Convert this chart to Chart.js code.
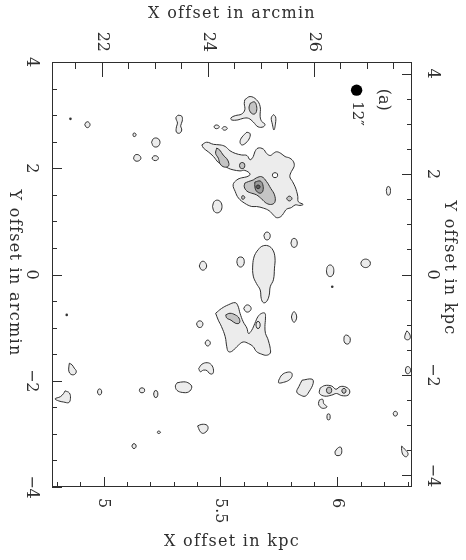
<!DOCTYPE html>
<html>
<head>
<meta charset="utf-8">
<script src="https://cdn.jsdelivr.net/npm/chart.js@4.4.1/dist/chart.umd.min.js"></script>
<style>
html,body{margin:0;padding:0;background:#fff;}
#wrap{width:466px;height:560px;}
</style>
</head>
<body>
<div id="wrap"><canvas id="c" width="466" height="560"></canvas></div>
<script>
// ---------- axis ticks / labels ----------
const xArcminTicks = [22, 24, 26];
const xKpcTicks = [5, 5.5, 6];
const xKpcLabels = ['5', '5.5', '6'];
const yArcminTicks = [4, 2, 0, -2, -4];
const yKpcTicks = [4, 2, 0, -2, -4];
const axisTitles = ['X offset in arcmin', 'X offset in kpc', 'Y offset in arcmin', 'Y offset in kpc'];
const panelLabel = '(a)';
const beamLabel = '12\u2033';
const beamPosition = [26.81, 3.47];
const panelLabelPosition = [27.32, 3.29];
const beamLabelPosition = [26.81, 3.03];

// ---------- contours (x, y in arcmin) ----------
const contoursLevel1 = [
  [[24.70,3.29],[24.80,3.35],[24.92,3.29],[24.99,3.16],[24.99,2.97],[25.02,2.88],[25.08,2.83],[25.05,2.78],[24.95,2.78],[24.86,2.87],[24.77,2.94],[24.67,2.94],[24.57,2.91],[24.45,2.91],[24.44,2.95],[24.52,2.99],[24.64,3.02],[24.70,3.10],[24.69,3.22]],
  [[25.24,3.01],[25.28,2.97],[25.28,2.85],[25.25,2.72],[25.22,2.83],[25.20,2.95]],
  [[24.12,2.78],[24.14,2.81],[24.19,2.81],[24.22,2.78],[24.19,2.75],[24.14,2.75]],
  [[24.27,2.75],[24.30,2.78],[24.34,2.78],[24.37,2.75],[24.34,2.72],[24.30,2.72]],
  [[24.74,2.68],[24.80,2.65],[24.78,2.55],[24.70,2.46],[24.64,2.44],[24.61,2.50],[24.65,2.59]],
  [[23.44,3.00],[23.51,2.98],[23.52,2.89],[23.49,2.80],[23.51,2.72],[23.47,2.66],[23.41,2.68],[23.41,2.78],[23.43,2.85],[23.40,2.95]],
  [[22.94,2.49],[22.98,2.56],[23.06,2.56],[23.10,2.49],[23.06,2.41],[22.98,2.41]],
  [[22.95,2.19],[22.98,2.23],[23.04,2.23],[23.07,2.19],[23.04,2.15],[22.98,2.15]],
  [[22.60,2.19],[22.63,2.25],[22.70,2.25],[22.74,2.19],[22.70,2.14],[22.63,2.14]],
  [[22.59,2.63],[22.60,2.66],[22.63,2.66],[22.65,2.63],[22.63,2.60],[22.60,2.60]],
  [[21.68,2.82],[21.71,2.87],[21.75,2.87],[21.78,2.82],[21.75,2.77],[21.71,2.77]],
  [[23.89,2.44],[23.98,2.49],[24.11,2.45],[24.23,2.44],[24.33,2.41],[24.42,2.33],[24.52,2.28],[24.64,2.25],[24.74,2.24],[24.80,2.16],[24.86,2.22],[24.89,2.31],[24.95,2.38],[25.05,2.36],[25.11,2.28],[25.18,2.24],[25.24,2.28],[25.30,2.31],[25.38,2.28],[25.46,2.22],[25.55,2.19],[25.62,2.12],[25.63,2.03],[25.58,1.94],[25.55,1.84],[25.60,1.75],[25.65,1.65],[25.68,1.56],[25.70,1.47],[25.71,1.37],[25.80,1.32],[25.74,1.30],[25.65,1.31],[25.58,1.26],[25.49,1.23],[25.43,1.15],[25.38,1.09],[25.30,1.07],[25.24,1.12],[25.16,1.20],[25.05,1.25],[24.92,1.28],[24.83,1.28],[24.70,1.34],[24.58,1.44],[24.52,1.56],[24.48,1.69],[24.55,1.78],[24.64,1.82],[24.74,1.84],[24.80,1.89],[24.70,1.96],[24.61,1.95],[24.48,1.97],[24.39,2.00],[24.29,2.06],[24.20,2.11],[24.11,2.22],[24.01,2.31],[23.92,2.38]],
  [[24.09,1.28],[24.12,1.37],[24.18,1.40],[24.24,1.37],[24.27,1.28],[24.24,1.19],[24.18,1.16],[24.12,1.19]],
  [[27.37,1.58],[27.39,1.65],[27.43,1.65],[27.45,1.58],[27.43,1.50],[27.39,1.50]],
  [[26.89,0.21],[26.91,0.26],[26.98,0.29],[27.05,0.26],[27.07,0.21],[27.05,0.16],[26.98,0.13],[26.91,0.16]],
  [[26.24,0.07],[26.26,0.15],[26.31,0.18],[26.36,0.15],[26.38,0.07],[26.36,-0.01],[26.31,-0.04],[26.26,-0.01]],
  [[25.06,0.73],[25.09,0.79],[25.15,0.79],[25.18,0.73],[25.15,0.66],[25.09,0.66]],
  [[25.57,0.59],[25.60,0.67],[25.66,0.67],[25.69,0.59],[25.66,0.52],[25.60,0.52]],
  [[24.55,0.24],[24.57,0.31],[24.62,0.33],[24.67,0.31],[24.69,0.24],[24.67,0.17],[24.62,0.14],[24.57,0.17]],
  [[23.84,0.16],[23.88,0.24],[23.94,0.24],[23.98,0.16],[23.94,0.09],[23.88,0.09]],
  [[24.93,0.44],[25.02,0.53],[25.14,0.54],[25.23,0.46],[25.27,0.31],[25.26,0.12],[25.24,-0.10],[25.18,-0.23],[25.16,-0.39],[25.11,-0.51],[25.05,-0.53],[25.01,-0.45],[24.99,-0.29],[24.92,-0.17],[24.86,-0.03],[24.85,0.18],[24.88,0.35]],
  [[24.15,-0.73],[24.26,-0.64],[24.39,-0.57],[24.52,-0.53],[24.57,-0.59],[24.61,-0.73],[24.67,-0.89],[24.74,-1.01],[24.77,-1.11],[24.83,-1.05],[24.89,-0.92],[24.95,-0.79],[25.02,-0.73],[25.08,-0.73],[25.09,-0.82],[25.08,-0.98],[25.09,-1.11],[25.13,-1.20],[25.16,-1.30],[25.18,-1.39],[25.18,-1.48],[25.11,-1.52],[25.02,-1.50],[24.92,-1.45],[24.86,-1.36],[24.77,-1.30],[24.67,-1.27],[24.58,-1.33],[24.52,-1.39],[24.45,-1.45],[24.39,-1.45],[24.36,-1.36],[24.33,-1.17],[24.26,-0.98],[24.20,-0.86]],
  [[24.68,-0.64],[24.72,-0.58],[24.78,-0.58],[24.82,-0.64],[24.78,-0.70],[24.72,-0.70]],
  [[23.79,-0.93],[23.82,-0.88],[23.88,-0.88],[23.91,-0.93],[23.88,-0.99],[23.82,-0.99]],
  [[23.95,-1.29],[23.98,-1.24],[24.02,-1.24],[24.05,-1.29],[24.02,-1.34],[23.98,-1.34]],
  [[25.58,-0.80],[25.60,-0.73],[25.63,-0.70],[25.66,-0.73],[25.68,-0.80],[25.66,-0.87],[25.63,-0.90],[25.60,-0.87]],
  [[26.57,-1.24],[26.58,-1.16],[26.62,-1.14],[26.67,-1.17],[26.69,-1.21],[26.68,-1.28],[26.64,-1.31],[26.59,-1.29]],
  [[23.83,-1.77],[23.89,-1.69],[23.99,-1.66],[24.07,-1.70],[24.11,-1.80],[24.09,-1.87],[24.03,-1.86],[23.99,-1.81],[23.92,-1.80],[23.86,-1.83]],
  [[23.42,-2.04],[23.55,-2.02],[23.65,-2.05],[23.70,-2.12],[23.64,-2.21],[23.52,-2.22],[23.42,-2.18],[23.39,-2.10]],
  [[21.39,-1.67],[21.44,-1.70],[21.48,-1.76],[21.52,-1.82],[21.49,-1.88],[21.42,-1.88],[21.38,-1.82],[21.38,-1.74]],
  [[21.31,-2.19],[21.39,-2.23],[21.41,-2.33],[21.38,-2.41],[21.28,-2.40],[21.19,-2.38],[21.12,-2.34],[21.22,-2.30],[21.28,-2.24]],
  [[23.81,-2.85],[23.89,-2.82],[23.99,-2.84],[24.00,-2.92],[23.92,-2.99],[23.86,-2.96],[23.83,-2.90]],
  [[25.34,-1.99],[25.40,-1.89],[25.50,-1.84],[25.58,-1.85],[25.59,-1.92],[25.53,-1.99],[25.43,-2.03],[25.34,-2.04]],
  [[25.78,-1.99],[25.97,-1.97],[25.99,-2.05],[25.91,-2.21],[25.84,-2.29],[25.75,-2.27],[25.68,-2.21],[25.72,-2.11]],
  [[26.12,-2.14],[26.21,-2.09],[26.34,-2.10],[26.42,-2.16],[26.50,-2.11],[26.61,-2.12],[26.68,-2.19],[26.65,-2.27],[26.53,-2.28],[26.43,-2.24],[26.34,-2.27],[26.21,-2.29],[26.11,-2.24]],
  [[26.11,-2.36],[26.17,-2.35],[26.19,-2.43],[26.25,-2.49],[26.18,-2.52],[26.12,-2.49],[26.09,-2.43]],
  [[26.40,-3.34],[26.45,-3.27],[26.51,-3.25],[26.53,-3.34],[26.50,-3.40],[26.42,-3.40]],
  [[27.66,-3.23],[27.72,-3.29],[27.78,-3.37],[27.75,-3.43],[27.69,-3.40],[27.66,-3.31]],
  [[27.76,-1.06],[27.81,-1.12],[27.82,-1.20],[27.77,-1.23],[27.72,-1.20],[27.73,-1.12]],
  [[27.73,-1.80],[27.75,-1.74],[27.80,-1.74],[27.83,-1.80],[27.80,-1.86],[27.75,-1.86]],
  [[21.92,-2.21],[21.94,-2.16],[21.98,-2.16],[22.00,-2.21],[21.98,-2.26],[21.94,-2.26]],
  [[22.71,-2.18],[22.73,-2.14],[22.79,-2.14],[22.81,-2.18],[22.79,-2.22],[22.73,-2.22]],
  [[22.98,-2.25],[23.00,-2.19],[23.04,-2.19],[23.06,-2.25],[23.04,-2.31],[23.00,-2.31]],
  [[23.05,-2.97],[23.06,-2.95],[23.09,-2.95],[23.11,-2.97],[23.09,-2.99],[23.06,-2.99]],
  [[22.57,-3.23],[22.59,-3.19],[22.63,-3.19],[22.65,-3.23],[22.63,-3.27],[22.59,-3.27]],
  [[26.25,-2.68],[26.26,-2.63],[26.30,-2.63],[26.31,-2.68],[26.30,-2.73],[26.26,-2.73]],
  [[27.50,-2.62],[27.52,-2.58],[27.56,-2.58],[27.58,-2.62],[27.56,-2.66],[27.52,-2.66]]
];
const contoursLevel1Inner = [
  [[24.91,-0.95],[24.93,-0.89],[24.97,-0.89],[24.99,-0.95],[24.97,-1.01],[24.93,-1.01]]
];
const contoursHoles = [
  [[25.22,1.87],[25.24,1.91],[25.30,1.91],[25.32,1.87],[25.30,1.83],[25.24,1.83]]
];
const contoursLevel2 = [
  [[24.80,3.22],[24.88,3.25],[24.92,3.18],[24.92,3.07],[24.88,3.02],[24.82,3.04],[24.78,3.13]],
  [[24.17,2.38],[24.23,2.34],[24.29,2.25],[24.36,2.18],[24.40,2.09],[24.38,2.03],[24.29,2.03],[24.23,2.09],[24.20,2.19],[24.15,2.28]],
  [[24.70,1.72],[24.77,1.75],[24.86,1.78],[24.92,1.82],[25.02,1.84],[25.11,1.75],[25.19,1.62],[25.26,1.50],[25.27,1.37],[25.21,1.32],[25.11,1.34],[25.02,1.42],[24.92,1.50],[24.83,1.53],[24.74,1.57],[24.69,1.65]],
  [[24.60,2.05],[24.62,2.10],[24.68,2.10],[24.70,2.05],[24.68,2.00],[24.62,2.00]],
  [[25.49,1.43],[25.52,1.47],[25.56,1.47],[25.59,1.43],[25.56,1.39],[25.52,1.39]],
  [[24.64,1.45],[24.65,1.48],[24.68,1.48],[24.70,1.45],[24.68,1.42],[24.65,1.42]],
  [[24.34,-0.76],[24.42,-0.73],[24.52,-0.76],[24.59,-0.82],[24.60,-0.91],[24.53,-0.92],[24.44,-0.86],[24.36,-0.82]],
  [[26.24,-2.18],[26.26,-2.13],[26.32,-2.13],[26.34,-2.18],[26.32,-2.23],[26.26,-2.23]],
  [[26.53,-2.19],[26.55,-2.15],[26.59,-2.15],[26.61,-2.19],[26.59,-2.23],[26.55,-2.23]]
];
const contoursLevel3 = [
  [[24.89,1.74],[24.99,1.76],[25.04,1.69],[25.04,1.57],[24.99,1.53],[24.92,1.57],[24.89,1.65]]
];
const contoursLevel4 = [
  [[24.91,1.65],[24.93,1.68],[24.97,1.68],[24.99,1.65],[24.97,1.62],[24.93,1.62]]
];
const compactSources = [[21.41,2.93],[26.35,-0.23],[21.34,-0.76]];

// ---------- styles ----------
const lineColor = '#2e2e2e';
const textColor = '#2e2e2e';
const fills = {l1: '#ececec', hole: '#ffffff', l2: '#c4c4c4', l3: '#9a9a9a', l4: '#5a5a5a'};
const SERIF = '"DejaVu Serif", "Liberation Serif", serif';

function polyDataset(points, fillColor, order) {
  const data = points.map(p => ({x: p[0], y: p[1]}));
  data.push({x: points[0][0], y: points[0][1]});
  return {
    data, showLine: true, fill: 'shape', backgroundColor: fillColor,
    borderColor: lineColor, borderWidth: 1, pointRadius: 0, pointHoverRadius: 0,
    tension: 0.4, order
  };
}

const datasets = [];
contoursLevel1.forEach(p => datasets.push(polyDataset(p, fills.l1, 6)));
contoursLevel1Inner.forEach(p => datasets.push(polyDataset(p, fills.l1, 5)));
contoursHoles.forEach(p => datasets.push(polyDataset(p, fills.hole, 5)));
contoursLevel2.forEach(p => datasets.push(polyDataset(p, fills.l2, 4)));
contoursLevel3.forEach(p => datasets.push(polyDataset(p, fills.l3, 3)));
contoursLevel4.forEach(p => datasets.push(polyDataset(p, fills.l4, 2)));
datasets.push({
  data: compactSources.map(p => ({x: p[0], y: p[1]})), showLine: false,
  pointRadius: 1.3, pointBackgroundColor: '#333', pointBorderWidth: 0, order: 1
});
datasets.push({
  data: [{x: beamPosition[0], y: beamPosition[1]}], showLine: false,
  pointRadius: 5.7, pointBackgroundColor: '#000', pointBorderWidth: 0, order: 0
});

function rotText(ctx, text, x, y, align) {
  ctx.save();
  ctx.translate(x, y);
  ctx.rotate(Math.PI / 2);
  ctx.textAlign = align;
  ctx.textBaseline = 'middle';
  ctx.fillText(text, 0, 0);
  ctx.restore();
}
function numLabel(v) { return v < 0 ? '\u2212' + Math.abs(v) : String(v); }

const axisDecor = {
  id: 'axisDecor',
  afterDraw(chart) {
    const ctx = chart.ctx, a = chart.chartArea, s = chart.scales;
    ctx.save();
    ctx.strokeStyle = lineColor;
    ctx.lineWidth = 1;
    ctx.strokeRect(a.left + 0.5, a.top + 0.5, a.right - a.left - 1, a.bottom - a.top - 1);
    const specs = [
      {sc: s.x, step: 0.5, major: xArcminTicks, edge: 'top', ml: 15, nl: 7},
      {sc: s.xKpc, step: 0.1, major: xKpcTicks, edge: 'bottom', ml: 10, nl: 5},
      {sc: s.y, step: 0.5, major: yArcminTicks, edge: 'left', ml: 10, nl: 5},
      {sc: s.yKpc, step: 0.5, major: yKpcTicks, edge: 'right', ml: 10, nl: 5}
    ];
    for (const sp of specs) {
      const k0 = Math.ceil(sp.sc.min / sp.step - 1e-6), k1 = Math.floor(sp.sc.max / sp.step + 1e-6);
      for (let k = k0; k <= k1; k++) {
        const v = k * sp.step;
        const isMajor = sp.major.some(m => Math.abs(m - v) < 1e-6);
        const len = isMajor ? sp.ml : sp.nl;
        const p = Math.round(sp.sc.getPixelForValue(v)) + 0.5;
        ctx.beginPath();
        if (sp.edge === 'top') { ctx.moveTo(p, a.top); ctx.lineTo(p, a.top + len); }
        else if (sp.edge === 'bottom') { ctx.moveTo(p, a.bottom); ctx.lineTo(p, a.bottom - len); }
        else if (sp.edge === 'left') { ctx.moveTo(a.left, p); ctx.lineTo(a.left + len, p); }
        else { ctx.moveTo(a.right, p); ctx.lineTo(a.right - len, p); }
        ctx.stroke();
      }
    }
    ctx.fillStyle = textColor;
    ctx.font = '16px ' + SERIF;
    xArcminTicks.forEach(v => rotText(ctx, numLabel(v), s.x.getPixelForValue(v), a.top - 10, 'right'));
    xKpcTicks.forEach((v, i) => rotText(ctx, xKpcLabels[i], s.xKpc.getPixelForValue(v), a.bottom + 11, 'left'));
    yArcminTicks.forEach(v => rotText(ctx, numLabel(v), a.left - 21, s.y.getPixelForValue(v), 'center'));
    yKpcTicks.forEach(v => rotText(ctx, numLabel(v), a.right + 20, s.yKpc.getPixelForValue(v), 'center'));
    rotText(ctx, panelLabel, s.x.getPixelForValue(panelLabelPosition[0]), s.y.getPixelForValue(panelLabelPosition[1]), 'center');
    ctx.font = '15px ' + SERIF;
    rotText(ctx, beamLabel, s.x.getPixelForValue(beamLabelPosition[0]), s.y.getPixelForValue(beamLabelPosition[1]), 'center');
    ctx.font = '16px ' + SERIF;
    try { ctx.letterSpacing = '1.3px'; } catch (e) {}
    ctx.textAlign = 'center';
    ctx.textBaseline = 'middle';
    ctx.fillText(axisTitles[0], 232, 14);
    ctx.fillText(axisTitles[1], 232, 542);
    rotText(ctx, axisTitles[2], 14, 273, 'center');
    rotText(ctx, axisTitles[3], 449, 268, 'center');
    ctx.restore();
  }
};

const hidden = {grid: {display: false}, ticks: {display: false}, border: {display: false}};
new Chart(document.getElementById('c'), {
  type: 'scatter',
  data: {datasets},
  options: {
    responsive: false,
    devicePixelRatio: 1,
    animation: false,
    events: [],
    layout: {padding: 0, autoPadding: false},
    plugins: {legend: {display: false}, tooltip: {enabled: false}},
    scales: {
      x: Object.assign({type: 'linear', position: 'top', min: 21.062, max: 27.855, afterFit: sc => { sc.height = 62; }}, hidden),
      xKpc: Object.assign({type: 'linear', position: 'bottom', axis: 'x', min: 4.7795, max: 6.319, afterFit: sc => { sc.height = 73; }}, hidden),
      y: Object.assign({type: 'linear', position: 'left', min: -4, max: 4, afterFit: sc => { sc.width = 52; }}, hidden),
      yKpc: Object.assign({type: 'linear', position: 'right', axis: 'y', min: -4.233, max: 4.233, afterFit: sc => { sc.width = 54; }}, hidden)
    }
  },
  plugins: [axisDecor]
});
</script>
</body>
</html>
